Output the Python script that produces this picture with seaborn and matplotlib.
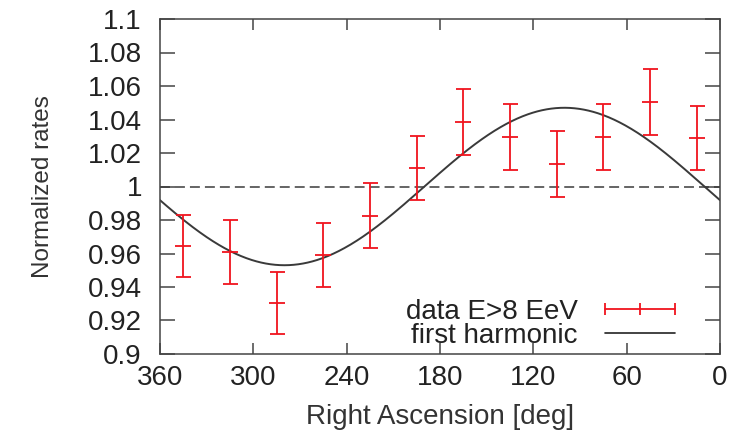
import numpy as np
import pandas as pd
import matplotlib
matplotlib.use("Agg")
import matplotlib.pyplot as plt
from matplotlib.lines import Line2D
import seaborn as sns

# ---- data ----
ra_centers = [345, 315, 285, 255, 225, 195, 165, 135, 105, 75, 45, 15]
rates = [0.9645, 0.961, 0.9305, 0.959, 0.9825, 1.011, 1.0385, 1.0295, 1.0135, 1.0295, 1.0505, 1.029]
rate_errors = [0.0185, 0.019, 0.0185, 0.019, 0.0195, 0.019, 0.0195, 0.0195, 0.0195, 0.0195, 0.0195, 0.019]

# first-harmonic fit parameters (peak ~1.047 at RA ~100 deg)
harmonic_amplitude = 0.047
harmonic_phase_deg = 100.0

x_ticks = [360, 300, 240, 180, 120, 60, 0]
y_ticks = [0.9, 0.92, 0.94, 0.96, 0.98, 1.0, 1.02, 1.04, 1.06, 1.08, 1.1]
y_tick_labels = ["0.9", "0.92", "0.94", "0.96", "0.98", "1", "1.02", "1.04", "1.06", "1.08", "1.1"]

x_label = "Right Ascension [deg]"
y_label = "Normalized rates"
data_label = "data E>8 EeV"
fit_label = "first harmonic"

# ---- styling ----
sns.set_theme(style="ticks")
plt.rcParams["font.family"] = ["Liberation Sans", "DejaVu Sans"]

RED = "#f0141e"
DARK = "#3a3a3a"
SPINE = "#444444"
FS = 20

fig = plt.figure(figsize=(7.35, 4.33), dpi=100)
ax = fig.add_axes([160 / 735, 1 - 354 / 433, 560 / 735, 335 / 433])

# harmonic curve
ra_grid = np.linspace(0, 360, 721)
harm = 1 + harmonic_amplitude * np.cos(np.radians(ra_grid - harmonic_phase_deg))
df_h = pd.DataFrame({"ra": ra_grid, "rate": harm})
sns.lineplot(data=df_h, x="ra", y="rate", ax=ax, color=DARK, lw=1.4, sort=False,
             estimator=None, legend=False)

# dashed reference line at 1
ax.axhline(1.0, color=DARK, lw=1.1, dashes=(6.5, 3.3), zorder=1)

# data with error bars
df_d = pd.DataFrame({"ra": ra_centers, "rate": rates, "err": rate_errors})
ax.errorbar(df_d["ra"], df_d["rate"], yerr=df_d["err"], fmt="_", color=RED,
            ecolor=RED, elinewidth=1.3, capsize=5.4, capthick=1.3,
            markersize=11, markeredgewidth=1.3, zorder=3)

# axes
ax.set_xlim(360, 0)
ax.set_ylim(0.9, 1.1)
ax.set_xticks(x_ticks)
ax.set_xticklabels([str(t) for t in x_ticks])
ax.set_yticks(y_ticks)
ax.set_yticklabels(y_tick_labels)
ax.set_xlabel(x_label, fontsize=FS, color="#333333", labelpad=9)
ax.set_ylabel(y_label, fontsize=17.5, color="#333333", labelpad=24)

for s in ax.spines.values():
    s.set_visible(True)
    s.set_color(SPINE)
    s.set_linewidth(1.1)

ax.tick_params(axis="x", direction="in", length=8, width=1.1, color=SPINE,
               top=True, bottom=True, labelsize=FS, labelcolor="#222222", pad=8)
ax.tick_params(axis="y", direction="in", length=11, width=1.1, color=SPINE,
               left=True, right=True, labelsize=FS, labelcolor="#222222", pad=13)
ax.grid(False)

# legend (text left of sample, right-aligned)
handles = [
    Line2D([], [], color=RED, lw=1.3, marker="|", markersize=8, markeredgewidth=1.3),
    Line2D([], [], color="#222222", lw=1.2),
]
leg = ax.legend(handles, [data_label, fit_label], loc="lower right",
                bbox_to_anchor=((683 - 160) / 560, 0.015), frameon=False,
                markerfirst=False, numpoints=3, handlelength=3.1,
                handletextpad=0.7, labelspacing=-0.08, borderpad=0,
                borderaxespad=0, fontsize=FS)
for t in leg.get_texts():
    t.set_color("#222222")

fig.savefig("out.png", dpi=100)
